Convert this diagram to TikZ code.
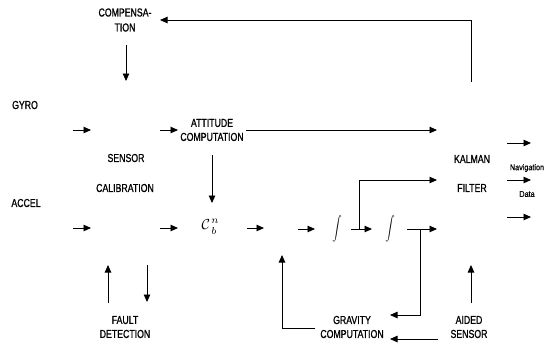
\documentclass[tikz,border=0pt]{standalone}
\usepackage{graphicx}
\usepackage{fontspec}
\setmainfont{Liberation Sans}
\newfontfamily\labfont{Liberation Sans}[FakeStretch=0.76,FakeBold=1]
\newfontfamily\smfont{Liberation Sans}[FakeStretch=0.85,FakeBold=0.5]
\usetikzlibrary{arrows.meta}
\tikzset{
  lab/.style={font=\labfont\fontsize{11.5}{14}\selectfont, align=center, inner sep=0pt},
  small/.style={font=\smfont\fontsize{8.5}{10}\selectfont, inner sep=0pt},
  mathsym/.style={inner sep=0pt},
  conn/.style={line width=0.9pt, -{Triangle[length=7.5pt,width=6.5pt]}}
}
\newcommand{\cbnsym}{\scalebox{1.45}{$\mathcal{C}\kern0.8pt\rlap{\raisebox{4.2pt}{$\scriptstyle n$}}\raisebox{-3.2pt}{$\scriptstyle b$}$}}
\begin{document}
\begin{tikzpicture}[x=1pt,y=-1pt]
\useasboundingbox (0,0) rectangle (545,354);
% labels
\node[lab] (comp) at (125,20) {COMPENSA-\\[1pt]TION};
\node[lab] (gyro) at (25,105) {GYRO};
\node[lab] (accel) at (26,203) {ACCEL};
\node[lab] (sens) at (126,158) {SENSOR};
\node[lab] (calib) at (125,188) {CALIBRATION};
\node[lab] (att) at (212,130) {ATTITUDE\\COMPUTATION};
\node[mathsym] (cbn) at (209,227) {\cbnsym};
\node[mathsym] (int1) at (337,229) {\scalebox{0.95}[1.2]{$\displaystyle\int$}};
\node[mathsym] (int2) at (390,229) {\scalebox{0.95}[1.2]{$\displaystyle\int$}};
\node[lab] (kal) at (472,159) {KALMAN};
\node[lab] (filt) at (472,188) {FILTER};
\node[small] (nav) at (527,168) {Navigation};
\node[small] (data) at (527,194) {Data};
\node[lab] (fault) at (125,327) {FAULT\\DETECTION};
\node[lab] (grav) at (352,327) {GRAVITY\\COMPUTATION};
\node[lab] (aided) at (469,327) {AIDED\\SENSOR};
% connector points
\coordinate (c1) at (126,45);  \coordinate (c2) at (126,81);
\coordinate (t1) at (471,82);  \coordinate (t2) at (471,20); \coordinate (t3) at (160,20);
\coordinate (g1) at (73,130);  \coordinate (g2) at (91,130);
\coordinate (a1) at (73,228);  \coordinate (a2) at (91,228);
\coordinate (s1) at (160,130); \coordinate (s2) at (178,130);
\coordinate (s3) at (160,228); \coordinate (s4) at (178,228);
\coordinate (k1) at (246,130); \coordinate (k2) at (437,130);
\coordinate (d1) at (212,155); \coordinate (d2) at (212,203);
\coordinate (e1) at (247,228); \coordinate (e2) at (264,228);
\coordinate (f1) at (298,229); \coordinate (f2) at (315,229);
\coordinate (h1) at (351,229); \coordinate (h2) at (372,229);
\coordinate (b1) at (359,229); \coordinate (b2) at (359,180); \coordinate (b3) at (437,180);
\coordinate (i1) at (407,229); \coordinate (i2) at (437,229);
\coordinate (r1) at (420,229); \coordinate (r2) at (420,315); \coordinate (r3) at (390,315);
\coordinate (q1) at (438,339); \coordinate (q2) at (390,339);
\coordinate (p1) at (315,328); \coordinate (p2) at (282,328); \coordinate (p3) at (282,255);
\coordinate (u1) at (471,303); \coordinate (u2) at (471,265);
\coordinate (v1) at (108,303); \coordinate (v2) at (108,265);
\coordinate (w1) at (147,265); \coordinate (w2) at (147,302);
\coordinate (o1) at (507,143); \coordinate (o2) at (531,143);
\coordinate (o3) at (507,180); \coordinate (o4) at (531,180);
\coordinate (o5) at (507,217); \coordinate (o6) at (531,217);
% connectors
\draw[conn] (c1) -- (c2);
\draw[conn] (t1) -- (t2) -- (t3);
\draw[conn] (g1) -- (g2);
\draw[conn] (a1) -- (a2);
\draw[conn] (s1) -- (s2);
\draw[conn] (s3) -- (s4);
\draw[conn] (k1) -- (k2);
\draw[conn] (d1) -- (d2);
\draw[conn] (e1) -- (e2);
\draw[conn] (f1) -- (f2);
\draw[conn] (h1) -- (h2);
\draw[conn] (b1) -- (b2) -- (b3);
\draw[conn] (i1) -- (i2);
\draw[conn] (r1) -- (r2) -- (r3);
\draw[conn] (q1) -- (q2);
\draw[conn] (p1) -- (p2) -- (p3);
\draw[conn] (u1) -- (u2);
\draw[conn] (v1) -- (v2);
\draw[conn] (w1) -- (w2);
\draw[conn] (o1) -- (o2);
\draw[conn] (o3) -- (o4);
\draw[conn] (o5) -- (o6);
\end{tikzpicture}
\end{document}
